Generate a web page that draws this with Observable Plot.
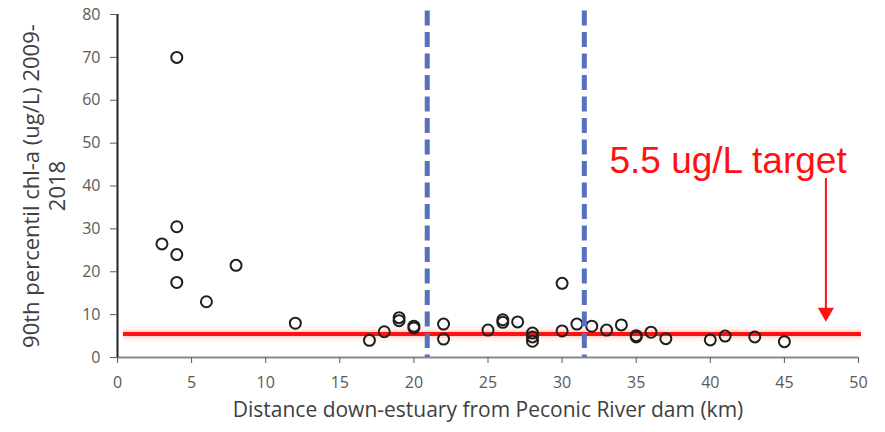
<!DOCTYPE html>
<html>
<head>
<meta charset="utf-8">
<script src="https://cdn.jsdelivr.net/npm/d3@7"></script>
<script src="https://cdn.jsdelivr.net/npm/@observablehq/plot@0.6"></script>
<style>
  html, body { margin: 0; padding: 0; background: #fff; }
</style>
</head>
<body>
<div id="chart"></div>
<script>
// Station distance down-estuary (km) and 90th percentile chl-a (ug/L)
const distanceKm = [4, 3, 4, 4, 4, 6, 8, 12, 17, 18, 19, 19, 20, 20, 22, 22, 25, 26, 26, 27, 28, 28, 28, 30, 30, 31, 32, 33, 34, 35, 35, 36, 37, 40, 41, 43, 45];
const chl90      = [70, 26.5, 30.5, 24, 17.5, 13, 21.5, 8, 4, 6, 9.3, 8.6, 7.3, 6.9, 7.8, 4.3, 6.4, 8.8, 8.2, 8.3, 5.7, 4.8, 3.8, 17.3, 6.2, 7.8, 7.3, 6.4, 7.6, 4.8, 5.1, 5.9, 4.4, 4.1, 5, 4.8, 3.7];

const xTicks = [0, 5, 10, 15, 20, 25, 30, 35, 40, 45, 50];
const yTicks = [0, 10, 20, 30, 40, 50, 60, 70, 80];

const targetValue = [5.5];
const targetFromKm = 0.4;
const targetToKm = 50.2;
const dividerKm = [20.9, 31.5];
const dividerTop = 80.8;
const arrowKm = 47.8;
const arrowFrom = 40;
const arrowTo = 8.4;
const targetLabel = "5.5 ug/L target";
const targetLabelKm = 41.2;
const targetLabelValue = 45.8;

const xLabel = "Distance down-estuary from Peconic River dam (km)";
const yLabel = "90th percentil chl-a (ug/L) 2009-\n2018";

const points = distanceKm.map((d, i) => ({km: d, chl: chl90[i]}));

const red = "#ff1111";
const chart = Plot.plot({
  width: 885,
  height: 432,
  marginLeft: 117,
  marginRight: 27,
  marginTop: 14,
  marginBottom: 75,
  style: {fontFamily: "'Open Sans', Lato, sans-serif", background: "#fff"},
  x: {domain: [0, 50]},
  y: {domain: [0, 80]},
  marks: [
    // target line glow + line
    Plot.ruleY(targetValue, {x1: targetFromKm, x2: targetToKm, stroke: "#fff4e6", strokeWidth: 14}),
    Plot.ruleY(targetValue, {x1: targetFromKm, x2: targetToKm, stroke: "#ffdcdc", strokeWidth: 8}),
    Plot.ruleY(targetValue, {x1: targetFromKm, x2: targetToKm, stroke: red, strokeWidth: 4}),
    // axes lines
    Plot.ruleY([0], {stroke: "#8a8a8a", strokeWidth: 2}),
    Plot.ruleX([0], {y1: 0, y2: 80, stroke: "#222", strokeWidth: 2}),
    Plot.axisX(xTicks, {tickSize: 6, tickPadding: 13, fontSize: 16, color: "#5a5a5a", label: null}),
    Plot.axisY(yTicks, {tickSize: 7, tickPadding: 10, fontSize: 16, color: "#5a5a5a", label: null}),
    // data points
    Plot.dot(points, {x: "km", y: "chl", r: 5.5, stroke: "#1e1e1e", strokeWidth: 2, fill: "none"}),
    // dashed dividers
    Plot.ruleX(dividerKm, {y1: dividerTop, y2: 0, stroke: "#5671bd", strokeWidth: 5, strokeDasharray: "15,6.5"}),
    // arrow
    Plot.link([0], {x1: arrowKm, x2: arrowKm, y1: arrowFrom, y2: arrowTo, stroke: red, strokeWidth: 2, dy: -8}),
    Plot.dot([0], {x: arrowKm, y: arrowTo, symbol: "triangle", rotate: 180, r: 6, fill: red, stroke: "none", dy: -9}),
    // annotation text
    Plot.text([targetLabel], {x: targetLabelKm, y: targetLabelValue, text: d => d, fill: red, fontSize: 37, fontFamily: "'Liberation Sans', Arial, sans-serif", textAnchor: "middle"}),
    // axis titles
    Plot.text([xLabel], {frameAnchor: "bottom", dy: 59, text: d => d, fontSize: 21, fill: "#404040"}),
    Plot.text([yLabel], {frameAnchor: "left", dx: -74, rotate: -90, textAnchor: "middle", text: d => d, fontSize: 22, lineHeight: 1.18, fill: "#404040"})
  ]
});
document.getElementById("chart").appendChild(chart);
</script>
</body>
</html>
